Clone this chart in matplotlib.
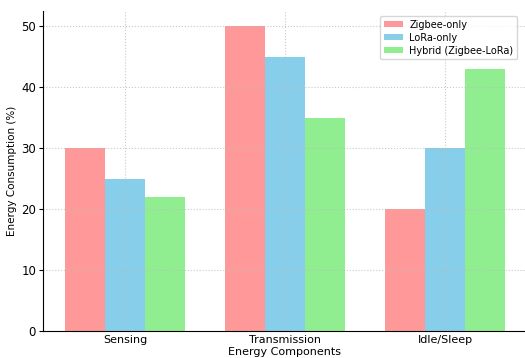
import matplotlib
matplotlib.use("Agg")
import matplotlib.pyplot as plt
import numpy as np

categories = ["Sensing", "Transmission", "Idle/Sleep"]
series_names = ["Zigbee-only", "LoRa-only", "Hybrid (Zigbee-LoRa)"]
zigbee = [30, 50, 20]
lora = [25, 45, 30]
hybrid = [22, 35, 43]
colors = ["#ff9999", "#87ceeb", "#90ee90"]

fig = plt.figure(figsize=(5.25, 3.58), dpi=100)
ax = fig.add_axes([43/525, 27/358, 484/525, 320/358])

x = np.arange(len(categories))
w = 0.25
for i, (vals, name, c) in enumerate(zip([zigbee, lora, hybrid], series_names, colors)):
    ax.bar(x + (i - 1) * w, vals, w, label=name, color=c)

ax.set_xticks(x)
ax.set_xticklabels(categories, fontsize=8)
ax.tick_params(axis='y', labelsize=8.5, length=3, pad=2)
ax.tick_params(axis='x', length=0, pad=3)
ax.set_yticks([0, 10, 20, 30, 40, 50])
ax.set_ylabel("Energy Consumption (%)", fontsize=7.5, labelpad=3)
ax.set_xlabel("Energy Components", fontsize=8, labelpad=1)
ax.grid(True, linestyle=':', linewidth=0.8, color='#bbbbbb', alpha=0.8)
ax.spines['top'].set_visible(False)
ax.spines['right'].set_visible(False)
ax.legend(loc='upper right', fontsize=7, bbox_to_anchor=(0.99, 1.0), frameon=True,
          handlelength=2.0, borderpad=0.4, labelspacing=0.3, handletextpad=0.6,
          handleheight=0.6)

fig.savefig("out.png", dpi=100)
